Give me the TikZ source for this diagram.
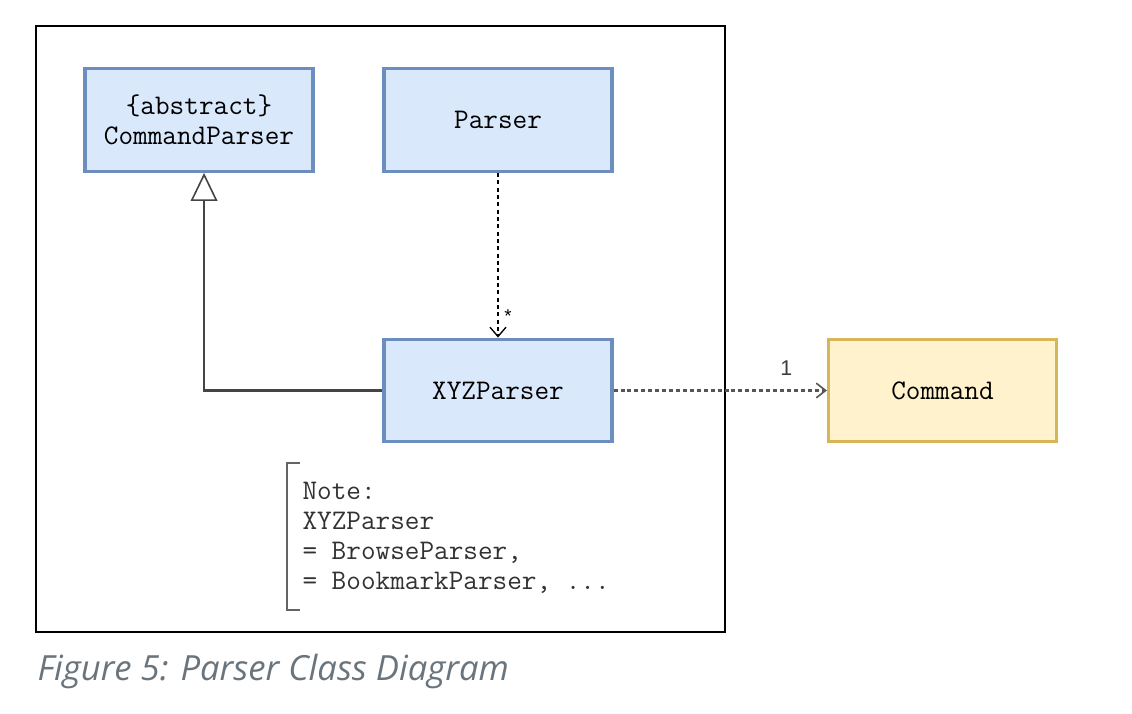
\documentclass[tikz,border=0pt]{standalone}
\usepackage{fontspec}
\newfontfamily\capfont{Open Sans}
\newfontfamily\labelfont{Liberation Sans}
\usepackage{tikz}
\usetikzlibrary{arrows.meta}
\tikzset{every picture/.style={line width=0.75pt}}
\definecolor{parserfill}{RGB}{218,232,252}
\definecolor{parserdraw}{RGB}{108,142,191}
\definecolor{cmdfill}{RGB}{255,242,204}
\definecolor{cmddraw}{RGB}{214,182,86}
\definecolor{captiongray}{RGB}{106,116,124}
\tikzset{
  classbox/.style={draw=parserdraw, fill=parserfill, line width=2.4pt, align=center,
    minimum width=171pt, minimum height=77pt, inner sep=0pt,
    font=\fontsize{21.3}{22.5}\selectfont\ttfamily},
  cmdbox/.style={classbox, draw=cmddraw, fill=cmdfill},
}

\begin{document}
\begin{tikzpicture}[x=0.75pt,y=0.75pt,yscale=-1,xscale=1]
	\useasboundingbox (0,0) rectangle (1132,714);

	%Shape: Rectangle (frame)
	\draw [line width=1.6pt] (36,26) rectangle (725,632);

	% Class Nodes
	\node [classbox] (cmdparser) at (199,120) {\{abstract\}\\CommandParser};
	\node [classbox] (parser) at (498,120) {Parser};
	\node [classbox] (xyzparser) at (498,390.5) {XYZParser};
	\node [cmdbox] (command) at (942.5,390.5) {Command};

	%Inheritance
	\draw [color={rgb, 255:red, 68; green, 68; blue, 68}, line width=1.8pt,
	  -{Triangle[open, length=21pt, width=20pt, fill=white, line width=1.2pt]}]
	  (xyzparser.west) -| ([xshift=3.8pt]cmdparser.south);

	%Dependency (dashed)
	\draw [dash pattern={on 3pt off 2.5pt}, line width=0.9pt,
	  -{Straight Barb[length=7pt, width=12pt, line width=1pt]}]
	  (parser.south) -- (xyzparser.north)
	  node [pos=0.87, right=1pt, font=\fontsize{14}{14}\selectfont\labelfont] (star) {*};

	%Association (dotted)
	\draw [color={rgb, 255:red, 85; green, 85; blue, 85}, dash pattern={on 3pt off 2.2pt}, line width=1.6pt,
	  -{Straight Barb[length=7pt, width=11pt, line width=1.2pt]}]
	  (xyzparser.east) -- (command.west)
	  node [pos=0.81, above=7pt, font=\fontsize{16}{16}\selectfont\labelfont, color={rgb, 255:red, 60; green, 60; blue, 60}] (one) {1};

	%Shape: Note bracket
	\draw [color={rgb, 255:red, 100; green, 100; blue, 100}, line width=2.2pt]
	  (300,463) -- (287,463) -- (287,610) -- (300,610);

	% Text Node
	\node [anchor=north west, align=left, inner sep=0pt,
	  font=\fontsize{21.3}{22.4}\selectfont\ttfamily, color={rgb, 255:red, 50; green, 50; blue, 50}]
	  (note) at (302,482) {Note:\\XYZParser\\= BrowseParser,\\= BookmarkParser, ...};

	% Text Node (caption)
	\node [anchor=west, inner sep=0pt, font=\fontsize{26}{28}\selectfont\capfont\itshape, color=captiongray]
	  (caption) at (37,671) {Figure 5: Parser Class Diagram};
\end{tikzpicture}
\end{document}
